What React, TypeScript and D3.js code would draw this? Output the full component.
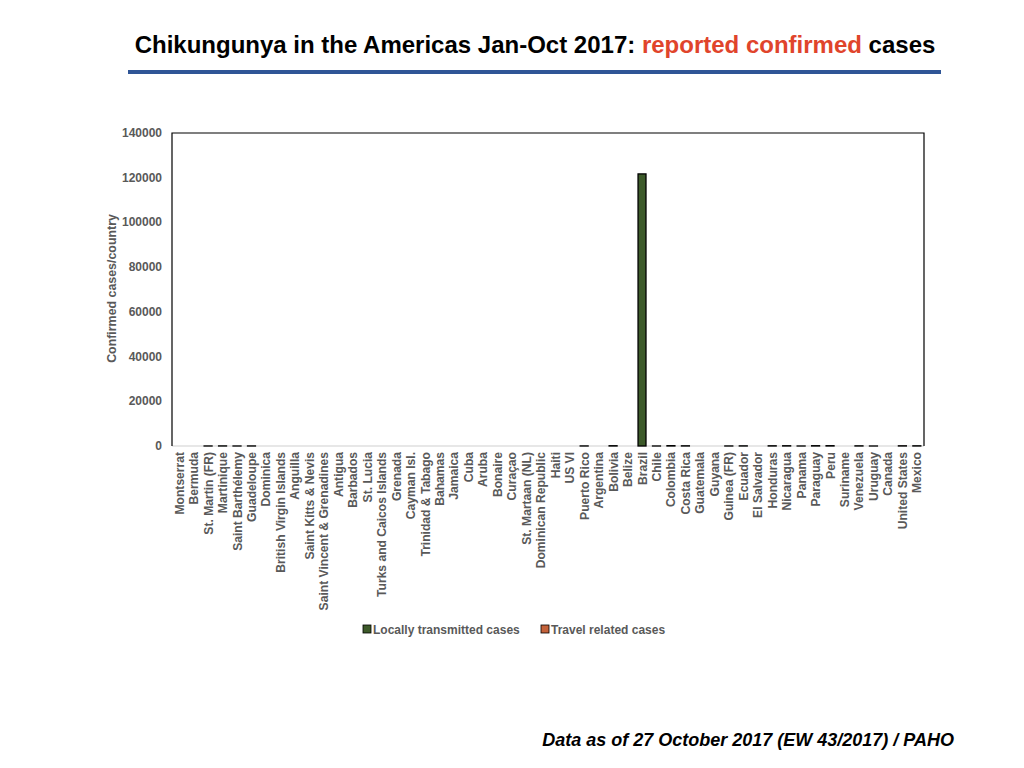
import React from 'react';
import * as d3 from 'd3';

const countries = [
  'Montserrat', 'Bermuda', 'St. Martin (FR)', 'Martinique', 'Saint Barthélemy', 'Guadeloupe',
  'Dominica', 'British Virgin Islands', 'Anguilla', 'Saint Kitts & Nevis', 'Saint Vincent & Grenadines',
  'Antigua', 'Barbados', 'St. Lucia', 'Turks and Caicos Islands', 'Grenada', 'Cayman Isl.',
  'Trinidad & Tabago', 'Bahamas', 'Jamaica', 'Cuba', 'Aruba', 'Bonaire', 'Curaçao',
  'St. Martaan (NL)', 'Dominican Republic', 'Haiti', 'US VI', 'Puerto Rico', 'Argentina',
  'Bolivia', 'Belize', 'Brazil', 'Chile', 'Colombia', 'Costa Rica', 'Guatemala', 'Guyana',
  'Guinea (FR)', 'Ecuador', 'El Salvador', 'Honduras', 'Nicaragua', 'Panama', 'Paraguay',
  'Peru', 'Suriname', 'Venezuela', 'Uruguay', 'Canada', 'United States', 'Mexico',
];

// everything except Brazil is a sliver at zero
const locallyTransmitted = [
  0, 0, 15, 40, 5, 25,
  0, 0, 0, 0, 0,
  0, 0, 0, 0, 0, 0,
  0, 0, 0, 0, 0, 0, 0,
  0, 0, 0, 0, 30, 0,
  120, 0, 121700, 0, 150, 80, 0, 0,
  20, 60, 0, 90, 110, 5, 130,
  140, 0, 70, 0, 0, 0, 80,
];

const travelRelated = [
  0, 0, 0, 0, 0, 0,
  0, 0, 0, 0, 0,
  0, 0, 0, 0, 0, 0,
  0, 0, 0, 0, 0, 0, 0,
  0, 0, 0, 0, 0, 0,
  0, 0, 0, 6, 0, 0, 0, 0,
  0, 0, 0, 0, 0, 0, 0,
  0, 0, 0, 3, 0, 90, 0,
];

const yTicks = [0, 20000, 40000, 60000, 80000, 100000, 120000, 140000];

const seriesNames = ['Locally transmitted cases', 'Travel related cases'];
const seriesColors = ['#3d5a2a', '#c4623a'];

const FONT = '"Liberation Sans", Arial, Helvetica, sans-serif';
const GREY = '#595959';

const plot = { left: 172, right: 924, top: 133, bottom: 446 };

const App: React.FC = () => {
  const x = d3.scaleBand<string>()
    .domain(countries)
    .range([plot.left, plot.right])
    .paddingInner(0.45)
    .paddingOuter(0.22);

  const y = d3.scaleLinear()
    .domain([0, 140000])
    .range([plot.bottom, plot.top]);

  const rows = countries.map((c, i) => ({
    country: c,
    local: locallyTransmitted[i],
    travel: travelRelated[i],
  }));

  const stacked = d3.stack<typeof rows[number]>()
    .keys(['local', 'travel'])(rows);

  return (
    <svg width={1024} height={768} style={{ position: 'absolute', left: 0, top: 0, background: '#fff' }}>
      {/* title */}
      <text x={535} y={53} textAnchor="middle" fontFamily={FONT} fontWeight="bold" fontSize={24} fill="#000">
        Chikungunya in the Americas Jan-Oct 2017: <tspan fill="#e0442b">reported confirmed</tspan> cases
      </text>
      <rect x={128} y={70} width={813} height={4} fill="#2f5596" />

      {/* plot frame */}
      <line x1={plot.left} x2={plot.right} y1={plot.bottom} y2={plot.bottom} stroke="#d0d0d0" strokeWidth={1.2} />
      <path
        d={`M${plot.left},${plot.bottom}V${plot.top}H${plot.right}V${plot.bottom}`}
        fill="none" stroke="#000" strokeWidth={1.2}
      />

      {/* y axis labels */}
      {yTicks.map(t => (
        <text key={t} x={162} y={y(t) + 4} textAnchor="end" fontFamily={FONT} fontWeight="bold"
          fontSize={12} fill={GREY}>{t}</text>
      ))}
      <text transform={`translate(116,${(plot.top + plot.bottom) / 2 - 1}) rotate(-90)`} textAnchor="middle"
        fontFamily={FONT} fontWeight="bold" fontSize={12.4} fill={GREY}>Confirmed cases/country</text>

      {/* bars */}
      {stacked.map((layer, si) => (
        <g key={layer.key}>
          {layer.filter(d => d[1] - d[0] > 0).map(d => (
            <rect key={d.data.country}
              x={x(d.data.country)!}
              y={y(d[1])}
              width={x.bandwidth()}
              height={y(d[0]) - y(d[1])}
              fill={seriesColors[si]}
              stroke="#000"
              strokeWidth={1.3}
            />
          ))}
        </g>
      ))}

      {/* x labels */}
      {countries.map(c => (
        <text key={c}
          transform={`translate(${x(c)! + x.bandwidth() / 2 + 4.5},452) rotate(-90)`}
          textAnchor="end" fontFamily={FONT} fontWeight="bold" fontSize={12.1} fill={GREY}>{c}</text>
      ))}

      {/* legend */}
      {seriesNames.map((name, i) => {
        const lx = i === 0 ? 363 : 541;
        return (
          <g key={name}>
            <rect x={lx} y={625} width={8} height={8} fill={seriesColors[i]} stroke="#000" strokeWidth={0.8} />
            <text x={lx + 10} y={634} fontFamily={FONT} fontWeight="bold" fontSize={12} fill={GREY}>{name}</text>
          </g>
        );
      })}

      {/* footer */}
      <text x={954} y={746} textAnchor="end" fontFamily={FONT} fontWeight="bold" fontStyle="italic"
        fontSize={18} fill="#000">Data as of 27 October 2017 (EW 43/2017) / PAHO</text>
    </svg>
  );
};

export default App;
